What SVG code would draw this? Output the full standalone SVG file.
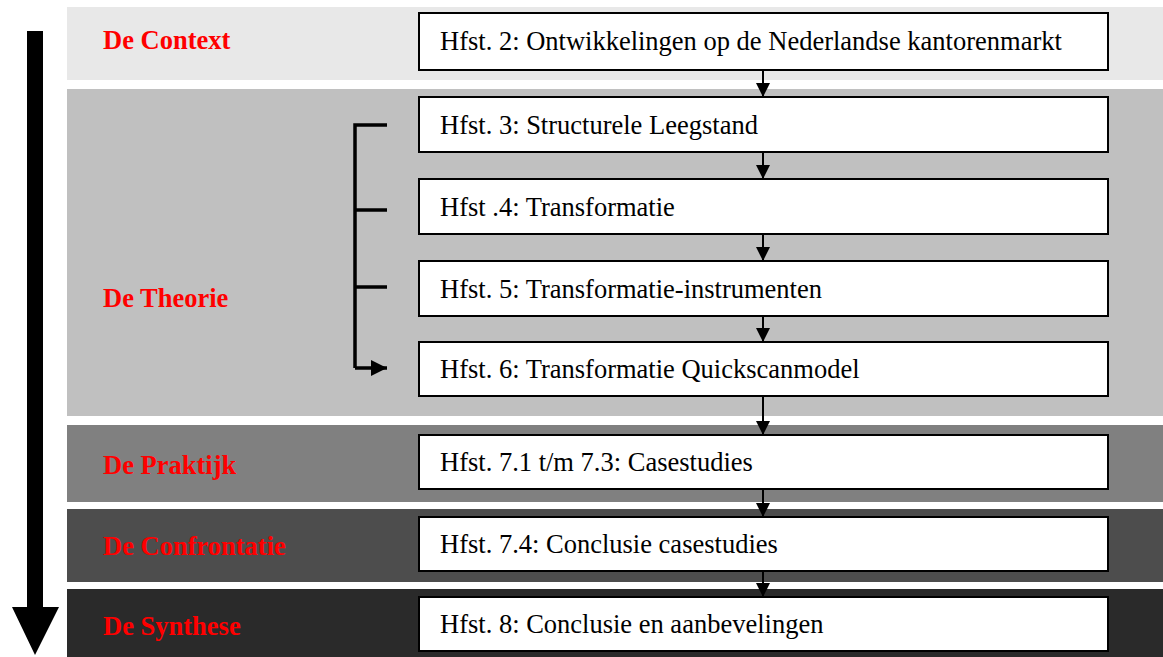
<svg xmlns="http://www.w3.org/2000/svg" width="1163" height="657" viewBox="0 0 1163 657">
<defs>
<style>
.lbl{font-family:"Liberation Serif",serif;font-weight:bold;font-size:26.5px;fill:#ff0000}
.box{fill:#ffffff;stroke:#000000;stroke-width:2}
.txt{font-family:"Liberation Serif",serif;font-size:26.5px;fill:#000000}
.con{stroke:#000000;stroke-width:2;fill:none}
.br{stroke:#000000;stroke-width:3.5;fill:none}
</style>
<marker id="ah" viewBox="0 0 10 10" refX="10" refY="5" markerWidth="14" markerHeight="15" markerUnits="userSpaceOnUse" orient="auto">
<path d="M0,0 L10,5 L0,10 z" fill="#000"/>
</marker>
<marker id="ah2" viewBox="0 0 10 10" refX="10" refY="5" markerWidth="16" markerHeight="16" markerUnits="userSpaceOnUse" orient="auto">
<path d="M0,0 L10,5 L0,10 z" fill="#000"/>
</marker>
</defs>
<rect width="1163" height="657" fill="#ffffff"/>
<g id="bands">
<rect x="67" y="7" width="1096" height="73" fill="#e8e8e8"/>
<rect x="67" y="89" width="1096" height="327" fill="#c0c0c0"/>
<rect x="67" y="425" width="1096" height="77" fill="#808080"/>
<rect x="67" y="509" width="1096" height="73" fill="#4d4d4d"/>
<rect x="67" y="589" width="1096" height="68" fill="#2a2a2a"/>
</g>
<g id="big-arrow">
<path d="M27,31 H43 V607 H59 L35,655 L12,607 H27 Z" fill="#000"/>
</g>
<g id="labels">
<text class="lbl" x="103" y="49">De Context</text>
<text class="lbl" x="103" y="307">De Theorie</text>
<text class="lbl" x="103" y="474">De Praktijk</text>
<text class="lbl" x="103" y="555">De Confrontatie</text>
<text class="lbl" x="103" y="635">De Synthese</text>
</g>
<g id="connectors">
<line class="con" x1="763" y1="70" x2="763" y2="97" marker-end="url(#ah)"/>
<line class="con" x1="763" y1="152" x2="763" y2="179" marker-end="url(#ah)"/>
<line class="con" x1="763" y1="234" x2="763" y2="261" marker-end="url(#ah)"/>
<line class="con" x1="763" y1="316" x2="763" y2="342" marker-end="url(#ah)"/>
<line class="con" x1="763" y1="396" x2="763" y2="435" marker-end="url(#ah)"/>
<line class="con" x1="763" y1="489" x2="763" y2="517" marker-end="url(#ah)"/>
<line class="con" x1="763" y1="571" x2="763" y2="597" marker-end="url(#ah)"/>
<path class="br" d="M387,125 H355 V368"/>
<line class="br" x1="355" y1="210" x2="387" y2="210"/>
<line class="br" x1="355" y1="287" x2="387" y2="287"/>
<line class="br" x1="355" y1="368" x2="387" y2="368" marker-end="url(#ah2)"/>
</g>
<g id="n2"><rect class="box" x="419" y="13" width="689" height="57"/><text class="txt" x="440" y="50">Hfst. 2: Ontwikkelingen op de Nederlandse kantorenmarkt</text></g>
<g id="n3"><rect class="box" x="419" y="97" width="689" height="55"/><text class="txt" x="440" y="134">Hfst. 3: Structurele Leegstand</text></g>
<g id="n4"><rect class="box" x="419" y="179" width="689" height="55"/><text class="txt" x="440" y="216">Hfst .4: Transformatie</text></g>
<g id="n5"><rect class="box" x="419" y="261" width="689" height="55"/><text class="txt" x="440" y="298">Hfst. 5: Transformatie-instrumenten</text></g>
<g id="n6"><rect class="box" x="419" y="342" width="689" height="54"/><text class="txt" x="440" y="378">Hfst. 6: Transformatie Quickscanmodel</text></g>
<g id="n7"><rect class="box" x="419" y="435" width="689" height="54"/><text class="txt" x="440" y="471">Hfst. 7.1 t/m 7.3: Casestudies</text></g>
<g id="n8"><rect class="box" x="419" y="517" width="689" height="54"/><text class="txt" x="440" y="553">Hfst. 7.4: Conclusie casestudies</text></g>
<g id="n9"><rect class="box" x="419" y="597" width="689" height="54"/><text class="txt" x="440" y="633">Hfst. 8: Conclusie en aanbevelingen</text></g>
</svg>
